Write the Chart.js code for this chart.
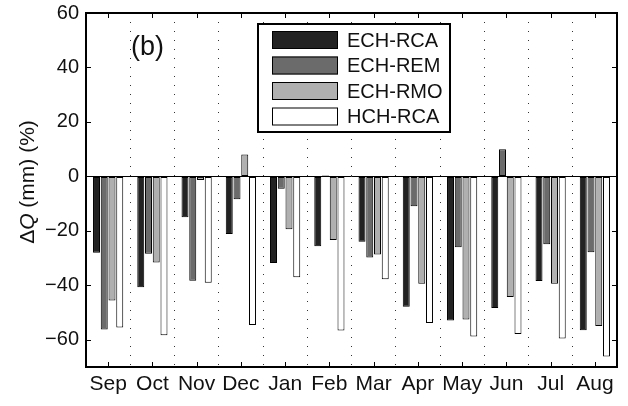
<!DOCTYPE html>
<html>
<head>
<meta charset="utf-8">
<script src="https://cdn.jsdelivr.net/npm/chart.js@4.4.1/dist/chart.umd.min.js"></script>
<style>
  html, body { margin: 0; padding: 0; background: #fff; }
</style>
</head>
<body>
<canvas id="graficoQ" width="628" height="406"></canvas>
<script>
const meses = ['Sep', 'Oct', 'Nov', 'Dec', 'Jan', 'Feb', 'Mar', 'Apr', 'May', 'Jun', 'Jul', 'Aug'];
const echRca = [-28, -40.7, -15, -21.2, -31.8, -25.7, -24, -47.9, -52.9, -48.3, -38.4, -56.5];
const echRem = [-56.2, -28.4, -38.3, -8.4, -4.5, 0.3, -29.8, -11, -26, 10, -24.9, -27.9];
const echRmo = [-45.6, -31.6, -1.3, 8, -19.4, -23.4, -28.7, -39.4, -52.6, -44.3, -39.4, -54.9];
const hchRca = [-55.5, -58.3, -39.1, -54.6, -37, -56.6, -37.8, -53.8, -58.8, -57.9, -59.5, -66.1];
const nomesSeries = ['ECH-RCA', 'ECH-REM', 'ECH-RMO', 'HCH-RCA'];
const yTicks = [-60, -40, -20, 0, 20, 40, 60];

const cores = ['#222222', '#6b6b6b', '#b0b0b0', '#ffffff'];
const FONTE = '"Liberation Sans", Arial, sans-serif';
Chart.defaults.font.family = FONTE;
Chart.defaults.color = '#111';

// moldura estilo matlab: caixa, ticks para dentro, legenda com borda, rotulos
const molduraMatlab = {
  id: 'molduraMatlab',
  afterDraw(chart) {
    const { ctx, chartArea: a, scales } = chart;
    const x = scales.x, y = scales.y;
    ctx.save();
    ctx.strokeStyle = '#000';
    ctx.lineWidth = 1;
    ctx.beginPath();
    meses.forEach((m, i) => {
      const px = Math.round(x.getPixelForValue(i)) + 0.5;
      ctx.moveTo(px, a.bottom); ctx.lineTo(px, a.bottom - 5);
      ctx.moveTo(px, a.top); ctx.lineTo(px, a.top + 5);
    });
    yTicks.forEach(v => {
      const py = Math.round(y.getPixelForValue(v)) + 0.5;
      ctx.moveTo(a.left, py); ctx.lineTo(a.left + 5, py);
      ctx.moveTo(a.right, py); ctx.lineTo(a.right - 5, py);
    });
    ctx.stroke();
    ctx.lineWidth = 2;
    ctx.strokeRect(a.left, a.top, a.right - a.left, a.bottom - a.top);

    // (b)
    ctx.fillStyle = '#111';
    ctx.font = '27px ' + FONTE;
    ctx.textBaseline = 'middle';
    ctx.textAlign = 'left';
    ctx.fillText('(b)', a.left + 45, a.top + 35);

    // legenda
    const lx = a.left + 172, ly = a.top + 11, lw = 192, lh = 108;
    ctx.fillStyle = '#fff';
    ctx.fillRect(lx, ly, lw, lh);
    ctx.lineWidth = 2;
    ctx.strokeRect(lx, ly, lw, lh);
    ctx.font = '20px ' + FONTE;
    chart.data.datasets.forEach((ds, i) => {
      const ry = ly + 7 + i * 25.5;
      ctx.fillStyle = ds.backgroundColor;
      ctx.fillRect(lx + 14, ry, 66, 18);
      ctx.lineWidth = 1;
      ctx.strokeStyle = '#000';
      ctx.strokeRect(lx + 14.5, ry + 0.5, 65, 17);
      ctx.fillStyle = '#111';
      ctx.fillText(ds.label, lx + 89, ry + 10);
    });

    // titulo do eixo y com Q em italico
    const partes = [['\u0394', ''], ['Q', 'italic '], [' (mm) (%)', '']];
    ctx.translate(28, 182);
    ctx.rotate(-Math.PI / 2);
    let total = 0;
    partes.forEach(p => { ctx.font = p[1] + '21px ' + FONTE; total += ctx.measureText(p[0]).width; });
    let cx = -total / 2;
    ctx.textBaseline = 'middle';
    partes.forEach(p => {
      ctx.font = p[1] + '21px ' + FONTE;
      ctx.fillText(p[0], cx, 0);
      cx += ctx.measureText(p[0]).width;
    });
    ctx.restore();
  }
};

const series = [echRca, echRem, echRmo, hchRca];
const ctx = document.getElementById('graficoQ').getContext('2d');
new Chart(ctx, {
  type: 'bar',
  data: {
    labels: meses,
    datasets: series.map((dados, i) => ({
      label: nomesSeries[i],
      data: dados,
      backgroundColor: cores[i],
      borderColor: '#000',
      borderWidth: 1,
      borderSkipped: false,
      categoryPercentage: 0.7,
      barPercentage: 0.9
    }))
  },
  options: {
    responsive: false,
    animation: false,
    layout: { padding: { left: 6, right: 11, top: 0, bottom: 0 } },
    plugins: { legend: { display: false }, tooltip: { enabled: false } },
    scales: {
      x: {
        offset: true,
        grid: { offset: true, color: '#333', lineWidth: 1, drawTicks: false },
        border: { display: false, dash: [1, 8] },
        ticks: { padding: 5, font: { size: 21 }, color: '#111', maxRotation: 0, minRotation: 0, autoSkip: false },
        afterFit(scale) { scale.height = 39; }
      },
      y: {
        min: -70,
        max: 60,
        afterBuildTicks(scale) { scale.ticks = yTicks.map(v => ({ value: v })); },
        grid: {
          drawTicks: false,
          color: c => (c.tick && c.tick.value === 0 ? '#000' : 'rgba(0,0,0,0)'),
          lineWidth: 1
        },
        border: { display: false },
        ticks: {
          padding: 7,
          font: { size: 20, lineHeight: 0.6 },
          color: '#111',
          callback: v => (v < 0 ? '\u2212' + Math.abs(v) : String(v))
        },
        afterFit(scale) { scale.width = 80; }
      }
    }
  },
  plugins: [molduraMatlab]
});
</script>
</body>
</html>
